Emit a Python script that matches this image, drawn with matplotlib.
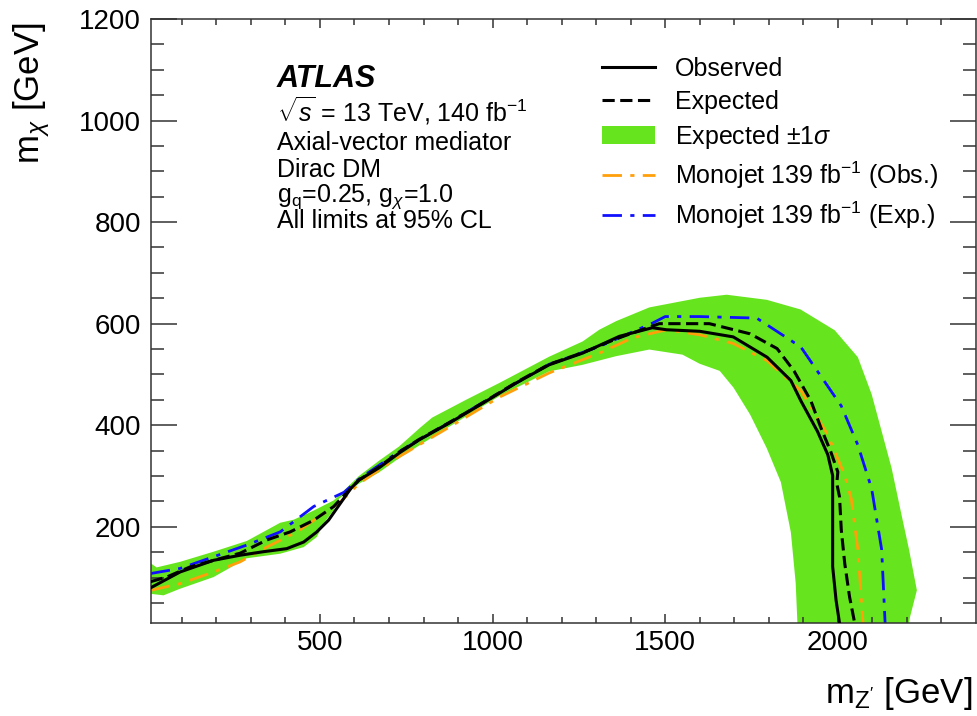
import matplotlib
matplotlib.use('Agg')
import matplotlib.pyplot as plt
from matplotlib.lines import Line2D
from matplotlib.patches import Patch

plt.rcParams['font.family'] = ['Liberation Sans', 'DejaVu Sans']
plt.rcParams['mathtext.fontset'] = 'custom'
plt.rcParams['mathtext.rm'] = 'Liberation Sans'
plt.rcParams['mathtext.it'] = 'Liberation Sans:italic'
plt.rcParams['mathtext.bf'] = 'Liberation Sans:bold'

# Expected +-1 sigma band: outer edge (left -> peak -> down the right side)
band_outer_x = [10, 27, 95, 192, 288, 385, 424, 482, 540, 613, 671, 729, 790, 825, 923,
                1019, 1164, 1261, 1309, 1358, 1454, 1600, 1678, 1794, 1892, 1991,
                2058, 2098, 2127, 2156, 2185, 2206, 2229, 2209, 2206]
band_outer_y = [128, 120, 131, 151, 172, 208, 214, 232, 252, 300, 330, 358, 395, 415, 450,
                483, 535, 565, 588, 605, 632, 651, 657, 647, 628, 587,
                534, 461, 388, 315, 222, 156, 75, 22, 10]
# inner edge (bottom right -> back along the lower side to the left)
band_inner_x = [1883, 1878, 1864, 1835, 1794, 1746, 1698, 1658, 1600, 1550, 1454,
                1358, 1261, 1164, 1019, 874, 729, 671, 613, 555, 540, 511, 491,
                453, 385, 288, 192, 95, 47, 10]
band_inner_y = [10, 89, 189, 288, 355, 421, 474, 507, 521, 539, 549,
                536, 519, 506, 457, 397, 335, 307, 285, 255, 233, 207, 180,
                160, 147, 138, 101, 78, 65, 68]

obs_x = [10, 95, 192, 269, 337, 404, 453, 491, 525, 559, 590, 613, 671, 729, 787, 874,
         971, 1068, 1164, 1261, 1367, 1463, 1504, 1600, 1697, 1795, 1864, 1893,
         1941, 1971, 1985, 1985, 1985, 1995, 2005]
obs_y = [80, 111, 134, 144, 151, 157, 170, 190, 213, 246, 276, 292, 316, 345, 371, 404,
         443, 483, 519, 542, 575, 592, 588, 585, 574, 534, 488, 448,
         388, 342, 301, 222, 122, 55, 10]

exp_x = [10, 56, 124, 192, 269, 346, 414, 482, 540, 590, 613, 671, 729, 787, 874, 971,
         1068, 1164, 1261, 1358, 1440, 1483, 1628, 1746, 1824, 1873, 1922, 1951,
         1980, 2000, 1997, 2005, 2010, 2020, 2034, 2049]
exp_y = [92, 101, 121, 134, 148, 174, 190, 213, 240, 276, 292, 318, 347, 372, 405, 444,
         484, 520, 543, 570, 590, 600, 600, 580, 551, 507, 448, 395,
         347, 308, 285, 259, 194, 128, 62, 10]

mono_obs_x = [10, 95, 192, 269, 337, 433, 511, 559, 613, 729, 874, 1019, 1164, 1309,
              1405, 1504, 1600, 1697, 1795, 1893, 1971, 2020, 2039, 2058, 2073]
mono_obs_y = [75, 88, 111, 131, 157, 190, 226, 249, 285, 338, 396, 455, 503, 542,
              572, 588, 578, 561, 527, 468, 381, 301, 255, 155, 10]

mono_exp_x = [10, 95, 192, 288, 385, 482, 570, 613, 729, 874, 1019, 1164, 1309, 1463,
              1500, 1600, 1765, 1893, 2010, 2058, 2098, 2127, 2137]
mono_exp_y = [108, 118, 141, 164, 190, 240, 268, 294, 348, 405, 464, 520, 555, 601,
              614, 614, 611, 554, 438, 361, 275, 155, 10]

label_lines = [r'$\sqrt{s}$ = 13 TeV, 140 fb$^{-1}$',
               'Axial-vector mediator',
               'Dirac DM',
               r'g$_{\mathrm{q}}$=0.25, g$_{\chi}$=1.0',
               'All limits at 95% CL']

GREEN = '#66e51f'
ORANGE = '#ff9f0a'
BLUE = '#1010ff'

fig = plt.figure(figsize=(9.77, 7.16), dpi=100)
ax = fig.add_axes([0.1543, 0.1295, 0.8446, 0.844])

# band and limit contours
ax.fill(band_outer_x + band_inner_x, band_outer_y + band_inner_y,
        color=GREEN, lw=0, zorder=1)
ax.plot(mono_obs_x, mono_obs_y, color=ORANGE, lw=2.0,
        linestyle=(0, (7, 3, 1.5, 3)), zorder=2)
ax.plot(mono_exp_x, mono_exp_y, color=BLUE, lw=2.0,
        linestyle=(0, (7, 3, 1.5, 3)), zorder=2)
ax.plot(exp_x, exp_y, color='black', lw=2.2, linestyle=(0, (4, 1.8)), zorder=3)
ax.plot(obs_x, obs_y, color='black', lw=2.2, zorder=3)

ax.set_xlim(10, 2400)
ax.set_ylim(10, 1200)
ax.set_xticks([500, 1000, 1500, 2000])
ax.set_xticks(range(100, 2400, 100), minor=True)
ax.set_yticks([200, 400, 600, 800, 1000, 1200])
ax.set_yticks(range(50, 1200, 50), minor=True)

ax.tick_params(axis='both', which='both', direction='in', top=True, right=True,
               colors='#333333', labelcolor='black', width=1.1)
ax.tick_params(axis='y', which='major', length=19, pad=7, labelsize=20)
ax.tick_params(axis='y', which='minor', length=9.5)
ax.tick_params(axis='x', which='major', length=6.5, pad=5, labelsize=20)
ax.tick_params(axis='x', which='minor', length=4.3)
for sp in ax.spines.values():
    sp.set_linewidth(1.1)
    sp.set_color('#333333')

ax.set_xlabel(r"m$_{\mathrm{Z}'}$ [GeV]", fontsize=25, loc='right')
ax.xaxis.set_label_coords(0.996, -0.085)
ax.set_ylabel(r'm$_{\chi}$ [GeV]', fontsize=25, loc='top')
ax.yaxis.set_label_coords(-0.12, 0.995)

# ATLAS label block
ax.text(0.153, 0.887, 'ATLAS', transform=ax.transAxes, fontsize=22,
        fontweight='bold', fontstyle='italic', va='baseline')
for txt, yy in zip(label_lines, [0.830, 0.783, 0.738, 0.697, 0.654]):
    ax.text(0.153, yy, txt, transform=ax.transAxes, fontsize=18, va='baseline')

handles = [
    Line2D([], [], color='black', lw=2.2),
    Line2D([], [], color='black', lw=2.2, linestyle=(0, (4, 1.8))),
    Patch(facecolor=GREEN, edgecolor='none'),
    Line2D([], [], color=ORANGE, lw=2.0, linestyle=(0, (7, 3, 1.5, 3))),
    Line2D([], [], color=BLUE, lw=2.0, linestyle=(0, (7, 3, 1.5, 3))),
]
labels = ['Observed', 'Expected', r'Expected $\pm1\sigma$',
          r'Monojet 139 fb$^{-1}$ (Obs.)', r'Monojet 139 fb$^{-1}$ (Exp.)']
ax.legend(handles, labels, loc='upper left', bbox_to_anchor=(0.547, 0.937),
          frameon=False, fontsize=18, handlelength=2.1, handletextpad=0.8,
          labelspacing=0.35, borderaxespad=0, borderpad=0)

fig.savefig('out.png', dpi=100)
